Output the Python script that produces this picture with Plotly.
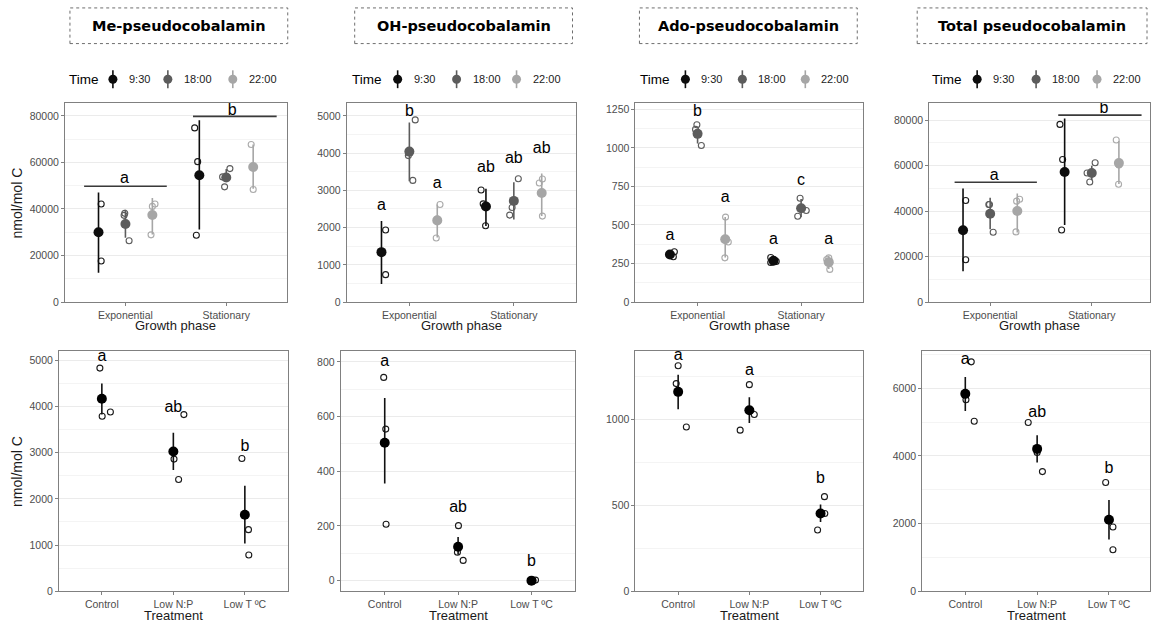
import plotly.graph_objects as go

W, H = 1151, 629

# ---------------- categories ----------------
TIMES = ["9:30", "18:00", "22:00"]
PHASES = ["Exponential", "Stationary"]
TREATMENTS = ["Control", "Low N:P", "Low T ºC"]
COMPOUNDS = ["Me-pseudocobalamin", "OH-pseudocobalamin",
             "Ado-pseudocobalamin", "Total pseudocobalamin"]

# ---------------- top row: by time and growth phase ([Exponential, Stationary]) ----------------
me_mean = {"9:30": [30030, 54500], "18:00": [33580, 53500], "22:00": [37420, 58060]}
me_lo = {"9:30": [12660, 31160], "18:00": [27600, 51800], "22:00": [29030, 48670]}
me_hi = {"9:30": [47100, 78120], "18:00": [39700, 57200], "22:00": [44680, 67730]}
me_raw = {"9:30": [[42120, 17650, 30000], [74850, 60340, 28740]],
          "18:00": [[37280, 38140, 26330], [53790, 49520, 57350]],
          "22:00": [[41120, 42120, 28890], [67730, 48380, 58060]]}
me_jit = {"9:30": [[8, 8, 0], [-14, -5, -9]],
          "18:00": [[-4, -2, 11], [-11, -5, 11]],
          "22:00": [[0, 8, -4], [-6, 0, 0]]}

oh_mean = {"9:30": [1341, 2567], "18:00": [4041, 2718], "22:00": [2194, 2931]}
oh_lo = {"9:30": [488, 2043], "18:00": [3242, 2220], "22:00": [1732, 2309]}
oh_hi = {"9:30": [2176, 3046], "18:00": [4822, 3215], "22:00": [2620, 3455]}
oh_raw = {"9:30": [[1936, 737, 1350], [3011, 2638, 2052]],
          "18:00": [[4893, 3934, 3268], [3313, 2540, 2336]],
          "22:00": [[2620, 1723, 2240], [3304, 3197, 2309]]}
oh_jit = {"9:30": [[12, 12, 0], [-14, -8, -1]],
          "18:00": [[17, -3, 10], [13, -5, -12]],
          "22:00": [[8, -3, 0], [2, -7, 2]]}
oh_letters = {"9:30": ["a", "ab"], "18:00": ["b", "ab"], "22:00": ["a", "ab"]}
oh_letter_y = {"9:30": [2593, 3597], "18:00": [5107, 3854], "22:00": [3171, 4103]}

ado_mean = {"9:30": [309, 268], "18:00": [1091, 609], "22:00": [407, 259]}
ado_lo = {"9:30": [300, 255], "18:00": [1029, 550], "22:00": [289, 214]}
ado_hi = {"9:30": [318, 282], "18:00": [1126, 668], "22:00": [551, 300]}
ado_raw = {"9:30": [[326, 294, 310], [257, 289, 264]],
           "18:00": [[1150, 1120, 1015], [673, 557, 594]],
           "22:00": [[551, 287, 390], [287, 212, 276]]}
ado_jit = {"9:30": [[13, 10, 0], [-8, -8, 8]],
           "18:00": [[-2, -6, 11], [-3, -10, 15]],
           "22:00": [[1, -1, 9], [0, 3, -6]]}
ado_letters = {"9:30": ["a", "a"], "18:00": ["b", "c"], "22:00": ["a", "a"]}
ado_letter_y = {"9:30": [429, 401], "18:00": [1233, 783], "22:00": [675, 401]}

tot_mean = {"9:30": [31560, 57160], "18:00": [38840, 56730], "22:00": [40000, 61090]}
tot_lo = {"9:30": [13530, 33890], "18:00": [32000, 53500], "22:00": [30540, 51930]}
tot_hi = {"9:30": [49890, 80720], "18:00": [45820, 59900], "22:00": [47700, 70800]}
tot_raw = {"9:30": [[44650, 18620, 31400], [78100, 62690, 31710]],
           "18:00": [[42910, 30690, 42900], [56730, 52800, 61240]],
           "22:00": [[45230, 44360, 30840], [71270, 51780, 60200]]}
tot_jit = {"9:30": [[8, 8, 0], [-14, -6, -9]],
           "18:00": [[-4, 9, -2], [-14, -6, 10]],
           "22:00": [[7, -2, -4], [-8, -1, 0]]}

# group brackets (Me and Total panels): [x_start, x_end], line level, letter, letter x, letter y
me_brackets = [([0.59, 1.41], 49800, "a", 0.99, 52800), ([1.67, 2.50], 79800, "b", 2.06, 82000)]
tot_brackets = [([0.65, 1.46], 52650, "a", 1.04, 55300), ([1.67, 2.49], 82180, "b", 2.12, 84650)]

# ---------------- bottom row: by treatment ----------------
me_t_mean = [4165, 3024, 1655]
me_t_lo = [3823, 2625, 1034]
me_t_hi = [4494, 3431, 2282]
me_t_raw = [[4829, 3787, 3880], [3823, 2860, 2418], [2874, 1334, 785]]
me_t_jit = [[-6, 1, 26], [32, 2, 16], [-9, 11, 12]]
me_t_letters = ["a", "ab", "b"]
me_t_letter_y = [5064, 3973, 3117]

oh_t_mean = [504, 124, 0]
oh_t_lo = [355, 95, -3]
oh_t_hi = [668, 160, 3]
oh_t_raw = [[743, 554, 206], [201, 74, 104], [0, 2, 1]]
oh_t_jit = [[-3, 3, 4], [1, 15, -2], [4, 12, 0]]
oh_t_letters = ["a", "ab", "b"]
oh_t_letter_y = [798, 267, 69]

ado_t_mean = [1161, 1054, 453]
ado_t_lo = [1059, 979, 403]
ado_t_hi = [1261, 1130, 505]
ado_t_raw = [[1313, 1209, 956], [1203, 1029, 938], [551, 453, 357]]
ado_t_jit = [[0, -6, 25], [0, 15, -28], [12, 13, -9]]
ado_t_letters = ["a", "a", "b"]
ado_t_letter_y = [1370, 1284, 652]

tot_t_mean = [5834, 4208, 2114]
tot_t_lo = [5328, 3808, 1529]
tot_t_hi = [6331, 4607, 2698]
tot_t_raw = [[6779, 5659, 5026], [4987, 3536, 4100], [3214, 1899, 1227]]
tot_t_jit = [[18, 2, 27], [-27, 16, 0], [-10, 12, 12]]
tot_t_letters = ["a", "ab", "b"]
tot_t_letter_y = [6837, 5279, 3604]

# ---------------- styling ----------------
COLORS = {"9:30": "#0d0d0d", "18:00": "#5c5c5c", "22:00": "#a6a6a6"}
RAW_COLORS = {"9:30": "#1a1a1a", "18:00": "#5c5c5c", "22:00": "#ababab"}
DODGE = {"9:30": -0.267, "18:00": 0.0, "22:00": 0.267}
JIT_TOP = 0.0033   # jitter unit (data units) in top row
JIT_BOT = 0.0046   # jitter unit (data units) in bottom row
FONT = "Liberation Sans, Arial, Helvetica, sans-serif"
BORDER = "#808080"
GRID = "#ebebeb"
MINOR_GRID = "#f4f4f4"
TICKFONT = dict(family=FONT, size=10.5, color="#4d4d4d")

top_dom_x = [(65, 287), (347, 577), (636, 864), (930, 1151)]
bot_dom_x = [(59, 288), (341, 576), (636, 864), (923, 1151)]
top_dom_y = (104, 305)
bot_dom_y = (354, 597)
top_xrange = [[0.4, 2.6], [0.4, 2.6], [0.4, 2.6], [0.4, 2.573]]
bot_xrange = [[0.4, 3.6], [0.4, 3.6], [0.4, 3.6], [0.4, 3.571]]
top_yrange = [[0, 85540], [0, 5346], [0, 1291], [0, 87500]]
top_dtick = [20000, 1000, 250, 20000]
bot_yrange = [[0, 5207], [-39, 841], [0, 1401], [0, 7111]]
bot_dtick = [1000, 200, 500, 2000]


def fx(x):
    return x / W


def fy(y):
    return 1 - y / H


fig = go.Figure()
layout = dict(width=W, height=H, margin=dict(l=0, r=0, t=0, b=0),
              paper_bgcolor="white", plot_bgcolor="white", showlegend=False,
              font=dict(family=FONT, color="#000000"))
shapes = []
annotations = []


def axis_pair(idx, xdom, ydom, xr, yr, dtick, ticktext):
    common = dict(showline=True, mirror=True, linecolor=BORDER, linewidth=1,
                  ticks="outside", ticklen=3, tickcolor=BORDER, tickwidth=1,
                  zeroline=False, tickfont=TICKFONT)
    xa = dict(common, domain=[fx(xdom[0]), fx(xdom[1])], range=xr, showgrid=False,
              tickmode="array", tickvals=list(range(1, len(ticktext) + 1)), ticktext=ticktext,
              anchor="y" + str(idx))
    ya = dict(common, domain=[fy(ydom[1]), fy(ydom[0])], range=yr, showgrid=True,
              gridcolor=GRID, gridwidth=1, tickmode="linear", tick0=0, dtick=dtick,
              tickformat="d", anchor="x" + str(idx),
              minor=dict(showgrid=True, gridcolor=MINOR_GRID, gridwidth=1,
                         tick0=0, dtick=dtick / 2, ticks=""))
    layout["xaxis" + ("" if idx == 1 else str(idx))] = xa
    layout["yaxis" + ("" if idx == 1 else str(idx))] = ya


def ax_names(idx):
    return ("x" if idx == 1 else "x" + str(idx)), ("y" if idx == 1 else "y" + str(idx))


# ---------------- top row ----------------
top_sets = [
    (me_mean, me_lo, me_hi, me_raw, me_jit, None, None, me_brackets),
    (oh_mean, oh_lo, oh_hi, oh_raw, oh_jit, oh_letters, oh_letter_y, None),
    (ado_mean, ado_lo, ado_hi, ado_raw, ado_jit, ado_letters, ado_letter_y, None),
    (tot_mean, tot_lo, tot_hi, tot_raw, tot_jit, None, None, tot_brackets),
]

for p, (mean, lo, hi, raw, jit, letters, letter_y, brackets) in enumerate(top_sets):
    idx = p + 1
    axis_pair(idx, top_dom_x[p], top_dom_y, top_xrange[p], top_yrange[p], top_dtick[p], PHASES)
    xn, yn = ax_names(idx)
    for t in TIMES:
        rx, ry = [], []
        for g in range(len(PHASES)):
            for v, j in zip(raw[t][g], jit[t][g]):
                rx.append(g + 1 + DODGE[t] + j * JIT_TOP)
                ry.append(v)
        fig.add_trace(go.Scatter(x=rx, y=ry, mode="markers", xaxis=xn, yaxis=yn,
                                 marker=dict(symbol="circle-open", size=6,
                                             line=dict(width=1.1, color=RAW_COLORS[t]),
                                             color=RAW_COLORS[t]),
                                 hoverinfo="y"))
    for t in TIMES:
        xs = [g + 1 + DODGE[t] for g in range(len(PHASES))]
        fig.add_trace(go.Scatter(
            x=xs, y=mean[t], mode="markers", xaxis=xn, yaxis=yn, name=t,
            marker=dict(size=10, color=COLORS[t]),
            error_y=dict(type="data", symmetric=False,
                         array=[h - m for h, m in zip(hi[t], mean[t])],
                         arrayminus=[m - l for m, l in zip(mean[t], lo[t])],
                         width=0, thickness=1.6, color=COLORS[t])))
        if letters is not None:
            fig.add_trace(go.Scatter(x=xs, y=letter_y[t], mode="text", text=letters[t],
                                     textposition="middle center", xaxis=xn, yaxis=yn,
                                     textfont=dict(family=FONT, size=16, color="#000000"),
                                     hoverinfo="skip"))
    if brackets is not None:
        for (xb, yb, lab, lx, ly) in brackets:
            shapes.append(dict(type="line", xref=xn, yref=yn, x0=xb[0], x1=xb[1], y0=yb, y1=yb,
                               line=dict(color="#3a3a3a", width=1.6)))
            fig.add_trace(go.Scatter(x=[lx], y=[ly], mode="text", text=[lab],
                                     textposition="middle center", xaxis=xn, yaxis=yn,
                                     textfont=dict(family=FONT, size=16, color="#000000"),
                                     hoverinfo="skip"))

# ---------------- bottom row ----------------
bot_sets = [
    (me_t_mean, me_t_lo, me_t_hi, me_t_raw, me_t_jit, me_t_letters, me_t_letter_y),
    (oh_t_mean, oh_t_lo, oh_t_hi, oh_t_raw, oh_t_jit, oh_t_letters, oh_t_letter_y),
    (ado_t_mean, ado_t_lo, ado_t_hi, ado_t_raw, ado_t_jit, ado_t_letters, ado_t_letter_y),
    (tot_t_mean, tot_t_lo, tot_t_hi, tot_t_raw, tot_t_jit, tot_t_letters, tot_t_letter_y),
]

for p, (mean, lo, hi, raw, jit, letters, letter_y) in enumerate(bot_sets):
    idx = p + 5
    axis_pair(idx, bot_dom_x[p], bot_dom_y, bot_xrange[p], bot_yrange[p], bot_dtick[p], TREATMENTS)
    xn, yn = ax_names(idx)
    rx, ry = [], []
    for g in range(len(TREATMENTS)):
        for v, j in zip(raw[g], jit[g]):
            rx.append(g + 1 + j * JIT_BOT)
            ry.append(v)
    fig.add_trace(go.Scatter(x=rx, y=ry, mode="markers", xaxis=xn, yaxis=yn,
                             marker=dict(symbol="circle-open", size=6,
                                         line=dict(width=1.1, color="#1a1a1a"), color="#1a1a1a"),
                             hoverinfo="y"))
    xs = [g + 1 for g in range(len(TREATMENTS))]
    fig.add_trace(go.Scatter(
        x=xs, y=mean, mode="markers", xaxis=xn, yaxis=yn,
        marker=dict(size=10, color="#000000"),
        error_y=dict(type="data", symmetric=False,
                     array=[h - m for h, m in zip(hi, mean)],
                     arrayminus=[m - l for m, l in zip(mean, lo)],
                     width=0, thickness=1.6, color="#111111")))
    fig.add_trace(go.Scatter(x=xs, y=letter_y, mode="text", text=letters,
                             textposition="middle center", xaxis=xn, yaxis=yn,
                             textfont=dict(family=FONT, size=16, color="#000000"),
                             hoverinfo="skip"))

# ---------------- axis titles ----------------
for p in range(4):
    cx = (top_dom_x[p][0] + top_dom_x[p][1]) / 2
    annotations.append(dict(text="Growth phase", x=fx(cx), y=fy(329), xref="paper", yref="paper",
                            showarrow=False, xanchor="center", yanchor="middle",
                            font=dict(family=FONT, size=13, color="#1a1a1a")))
    cxb = (bot_dom_x[p][0] + bot_dom_x[p][1]) / 2
    annotations.append(dict(text="Treatment", x=fx(cxb), y=fy(621), xref="paper", yref="paper",
                            showarrow=False, xanchor="center", yanchor="middle",
                            font=dict(family=FONT, size=13, color="#1a1a1a")))
for ydom in (top_dom_y, bot_dom_y):
    annotations.append(dict(text="nmol/mol C", x=fx(17), y=fy((ydom[0] + ydom[1]) / 2),
                            xref="paper", yref="paper", showarrow=False, textangle=-90,
                            xanchor="center", yanchor="middle",
                            font=dict(family=FONT, size=14, color="#1a1a1a")))

# ---------------- panel header boxes ----------------
HEADER_BOX = [(70, 288), (355, 573), (640, 858), (918, 1148)]
for p, name in enumerate(COMPOUNDS):
    x0, x1 = HEADER_BOX[p]
    shapes.append(dict(type="rect", xref="paper", yref="paper", x0=fx(x0), x1=fx(x1),
                       y0=fy(44), y1=fy(8), line=dict(color="#6e6e6e", width=1, dash="dot"),
                       fillcolor="white", layer="above"))
    annotations.append(dict(text="<b>" + name + "</b>", x=fx((x0 + x1) / 2), y=fy(26),
                            xref="paper", yref="paper", showarrow=False,
                            xanchor="center", yanchor="middle",
                            font=dict(family="DejaVu Sans, Verdana, sans-serif", size=14.5,
                                      color="#000000")))

# ---------------- legends (one per top panel) ----------------
LEG_TITLE_X = [67, 350, 639, 931]
LEG_SYM_X = [[113, 168, 233], [398, 457, 517], [686, 743, 806], [978, 1037, 1098]]
LEG_Y = 80
for p in range(4):
    annotations.append(dict(text="Time", x=fx(LEG_TITLE_X[p]), y=fy(LEG_Y), xref="paper",
                            yref="paper", showarrow=False, xanchor="left", yanchor="middle",
                            font=dict(family=FONT, size=13.5, color="#000000")))
    for k, t in enumerate(TIMES):
        sx = LEG_SYM_X[p][k]
        shapes.append(dict(type="line", xref="paper", yref="paper", x0=fx(sx), x1=fx(sx),
                           y0=fy(LEG_Y + 9), y1=fy(LEG_Y - 9),
                           line=dict(color=COLORS[t], width=1.6)))
        shapes.append(dict(type="circle", xref="paper", yref="paper",
                           x0=fx(sx - 4.5), x1=fx(sx + 4.5), y0=fy(LEG_Y + 4.5), y1=fy(LEG_Y - 4.5),
                           line=dict(color=COLORS[t], width=0), fillcolor=COLORS[t]))
        annotations.append(dict(text=t, x=fx(sx + 14), y=fy(LEG_Y), xref="paper", yref="paper",
                                showarrow=False, xanchor="left", yanchor="middle",
                                font=dict(family=FONT, size=11, color="#1a1a1a")))

layout["shapes"] = shapes
layout["annotations"] = annotations
fig.update_layout(**layout)
fig.write_html("out.html", config={"displayModeBar": False},
               post_script="document.body.style.margin='0';document.body.style.padding='0';"
                           "document.body.style.overflow='hidden';")
